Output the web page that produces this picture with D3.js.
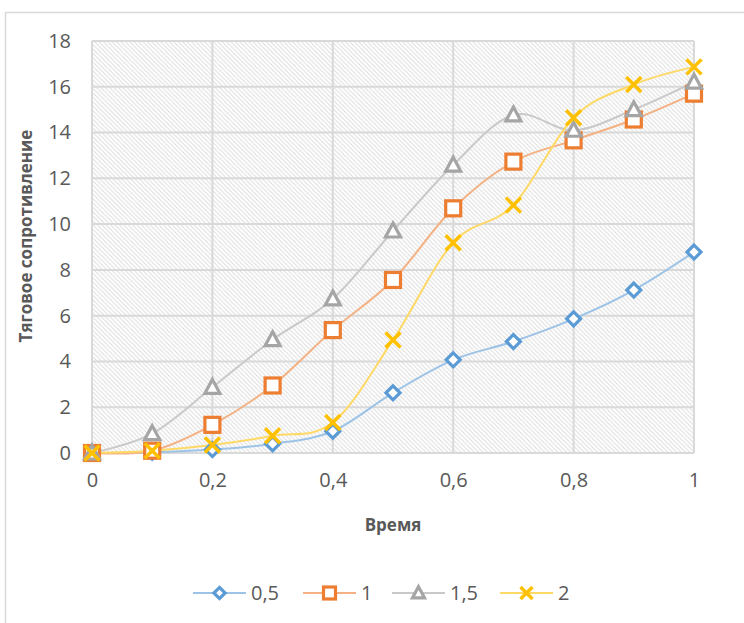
<!DOCTYPE html>
<html>
<head>
<meta charset="utf-8">
<script src="https://cdn.jsdelivr.net/npm/d3@7"></script>
<style>
  html, body { margin: 0; padding: 0; background: #fff; }
  svg { display: block; }
</style>
</head>
<body>
<svg id="chart" width="744" height="623"></svg>
<script>
// Time points (x axis) and tick labels
const times = [0, 0.1, 0.2, 0.3, 0.4, 0.5, 0.6, 0.7, 0.8, 0.9, 1];
const xTicks = [0, 0.2, 0.4, 0.6, 0.8, 1];
const yTicks = [0, 2, 4, 6, 8, 10, 12, 14, 16, 18];

// Series names and values (traction resistance)
const seriesNames = ["0,5", "1", "1,5", "2"];
const s05 = [0, 0.03, 0.15, 0.4, 0.95, 2.63, 4.07, 4.87, 5.86, 7.12, 8.78];
const s1  = [0, 0.1, 1.23, 2.95, 5.37, 7.56, 10.69, 12.73, 13.66, 14.57, 15.7];
const s15 = [0, 0.85, 2.87, 4.95, 6.73, 9.7, 12.58, 14.77, 14.1, 15.0, 16.2];
const s2  = [0, 0.1, 0.35, 0.75, 1.33, 4.94, 9.19, 10.83, 14.65, 16.1, 16.87];

const seriesValues = [s05, s1, s15, s2];
const markerColors = ["#5b9bd5", "#ed7d31", "#a5a5a5", "#ffc000"];
const lineColors   = ["#9dc3e6", "#f4b183", "#c9c9c9", "#ffd966"];
const markerKinds  = ["diamond", "square", "triangle", "cross"];

const svg = d3.select("#chart");
const fontFamily = "'Open Sans', 'Liberation Sans', sans-serif";

// Outer chart frame
svg.append("rect")
  .attr("x", 5.5).attr("y", 12.5)
  .attr("width", 760).attr("height", 640)
  .attr("fill", "#fff").attr("stroke", "#d9d9d9").attr("stroke-width", 1.5);

const x = d3.scaleLinear().domain([0, 1]).range([92, 694]);
const y = d3.scaleLinear().domain([0, 18]).range([453, 41]);

// Diagonal hatch fill for the plot area
const defs = svg.append("defs");
const pat = defs.append("pattern")
  .attr("id", "hatch")
  .attr("patternUnits", "userSpaceOnUse")
  .attr("width", 4.4).attr("height", 4.4);
pat.append("rect").attr("width", 4.4).attr("height", 4.4).attr("fill", "#fff");
pat.append("path")
  .attr("d", "M-1,-1 L5.4,5.4 M-1,3.4 L1,5.4 M3.4,-1 L5.4,1")
  .attr("stroke", "#dcdcdc").attr("stroke-width", 1);

svg.append("rect")
  .attr("x", x(0)).attr("y", y(18))
  .attr("width", x(1) - x(0)).attr("height", y(0) - y(18))
  .attr("fill", "url(#hatch)");

// Gridlines
const grid = svg.append("g").attr("stroke", "#d9d9d9").attr("stroke-width", 2);
grid.selectAll("line.h").data(yTicks).join("line")
  .attr("x1", x(0)).attr("x2", x(1))
  .attr("y1", d => y(d)).attr("y2", d => y(d));
grid.selectAll("line.v").data(xTicks).join("line")
  .attr("y1", y(0)).attr("y2", y(18))
  .attr("x1", d => x(d)).attr("x2", d => x(d));

// Axes (labels only, lines are the gridlines)
const fmt = d => String(d).replace(".", ",");
const yAxis = svg.append("g")
  .attr("transform", `translate(${x(0)},0)`)
  .call(d3.axisLeft(y).tickValues(yTicks).tickSize(0).tickPadding(21).tickFormat(fmt));
const xAxis = svg.append("g")
  .attr("transform", `translate(0,${y(0)})`)
  .call(d3.axisBottom(x).tickValues(xTicks).tickSize(0).tickPadding(20).tickFormat(fmt));
[yAxis, xAxis].forEach(a => {
  a.select(".domain").remove();
  a.selectAll("text")
    .attr("fill", "#595959")
    .style("font-family", fontFamily)
    .style("font-size", "20px");
});

// Axis titles
svg.append("text")
  .attr("x", 393).attr("y", 531)
  .attr("text-anchor", "middle")
  .attr("fill", "#595959")
  .style("font-family", fontFamily).style("font-size", "17px").style("font-weight", "bold")
  .text("Время");
svg.append("text")
  .attr("transform", "translate(32,236) rotate(-90)")
  .attr("text-anchor", "middle")
  .attr("fill", "#595959")
  .style("font-family", fontFamily).style("font-size", "17px").style("font-weight", "bold")
  .text("Тяговое сопротивление");

// Marker drawing
function drawMarker(g, kind, color, s) {
  if (kind === "diamond") {
    const r = 7 * s;
    g.append("path").attr("d", `M0,${-r}L${r},0L0,${r}L${-r},0Z`)
      .attr("fill", "#fff").attr("stroke", color).attr("stroke-width", 3.2);
  } else if (kind === "square") {
    const h = 7.5 * s;
    g.append("rect").attr("x", -h).attr("y", -h).attr("width", 2 * h).attr("height", 2 * h)
      .attr("fill", "#fff").attr("stroke", color).attr("stroke-width", 3.2);
  } else if (kind === "triangle") {
    const h = 7.5 * s;
    g.append("path").attr("d", `M0,${-h * 1.05}L${h},${h * 0.8}L${-h},${h * 0.8}Z`)
      .attr("fill", "#fff").attr("stroke", color).attr("stroke-width", 3.2).attr("stroke-linejoin", "miter");
  } else {
    const h = 7.5 * s;
    g.append("path").attr("d", `M${-h},${-h}L${h},${h}M${-h},${h}L${h},${-h}`)
      .attr("fill", "none").attr("stroke", color).attr("stroke-width", 3.5);
  }
}

// Smoothed series lines
const line = d3.line()
  .x((d, i) => x(times[i]))
  .y(d => y(d))
  .curve(d3.curveCardinal.tension(0));

seriesValues.forEach((vals, k) => {
  svg.append("path")
    .attr("d", line(vals))
    .attr("fill", "none")
    .attr("stroke", lineColors[k])
    .attr("stroke-width", 2);
});

// Markers
seriesValues.forEach((vals, k) => {
  const g = svg.append("g");
  vals.forEach((v, i) => {
    const mg = g.append("g").attr("transform", `translate(${x(times[i])},${y(v)})`);
    drawMarker(mg, markerKinds[k], markerColors[k], 1);
  });
});

// Legend
const legendX = [193, 303, 392, 500];
const legend = svg.append("g").attr("transform", "translate(0,593)");
seriesNames.forEach((name, k) => {
  const lg = legend.append("g").attr("transform", `translate(${legendX[k]},0)`);
  lg.append("line").attr("x1", 0).attr("x2", 53).attr("y1", 0).attr("y2", 0)
    .attr("stroke", lineColors[k]).attr("stroke-width", 2);
  const mg = lg.append("g").attr("transform", "translate(26.5,0)");
  drawMarker(mg, markerKinds[k], markerColors[k], 0.8);
  lg.append("text").attr("x", 58).attr("y", 0).attr("dy", "0.35em")
    .attr("fill", "#595959")
    .style("font-family", fontFamily).style("font-size", "20px")
    .text(name);
});
</script>
</body>
</html>
